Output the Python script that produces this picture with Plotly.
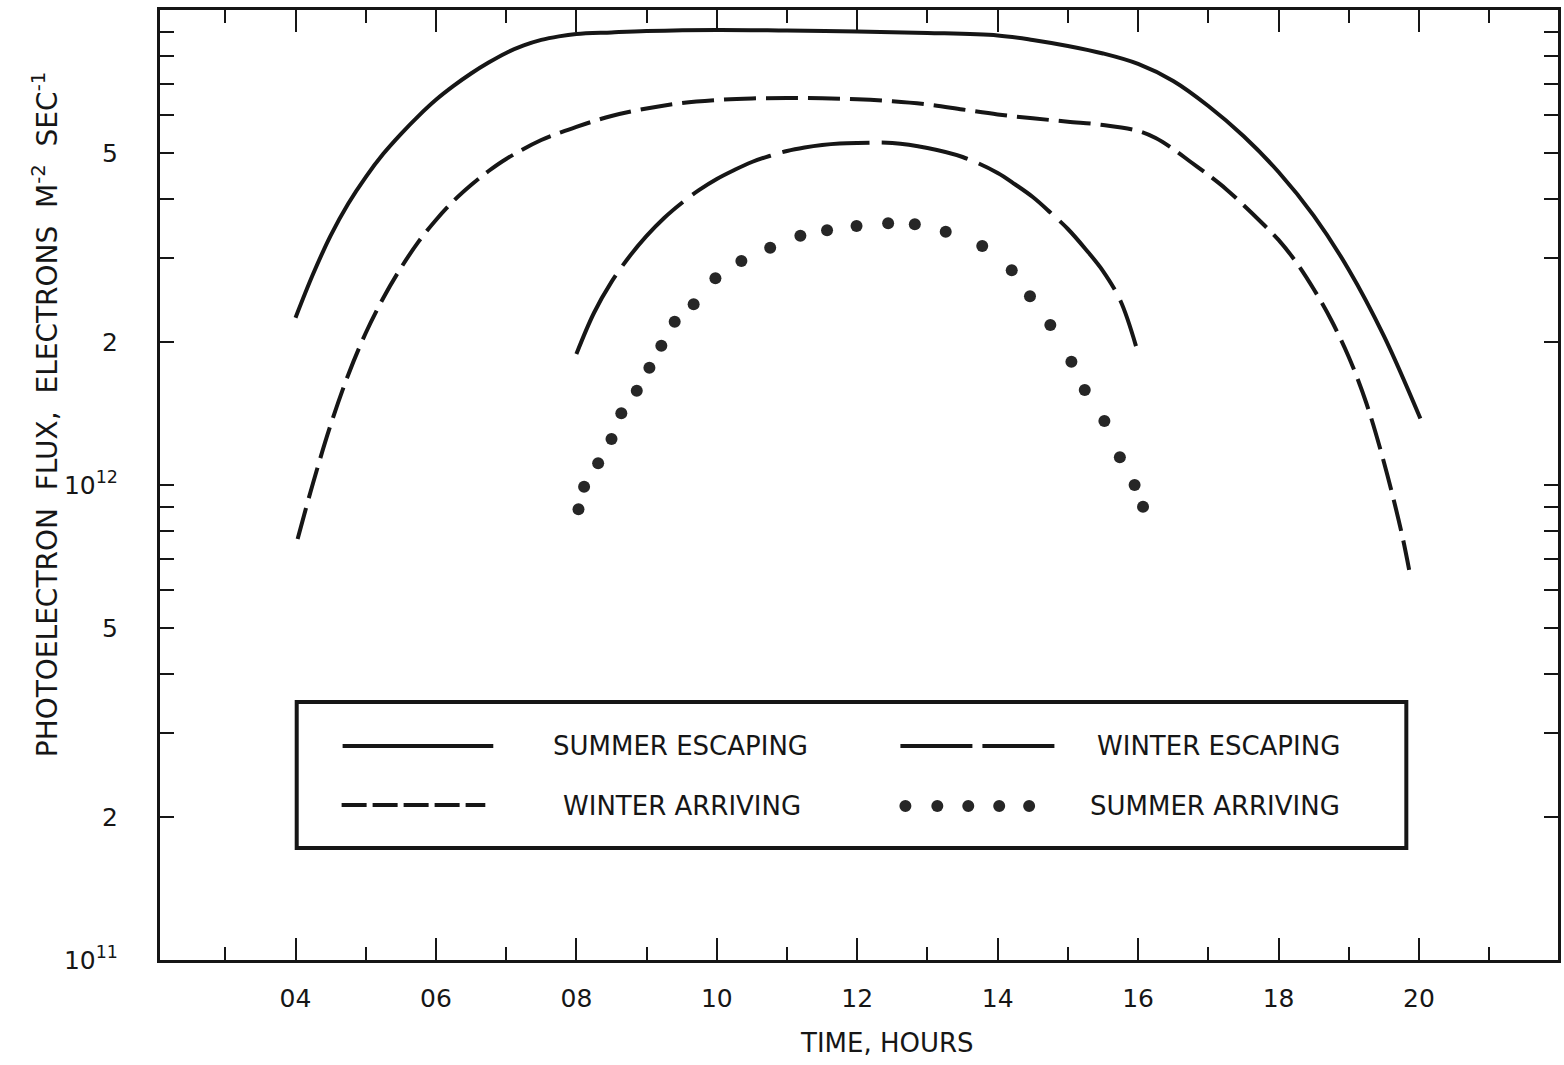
import math
import plotly.graph_objects as go

# Local time (hours) and photoelectron flux (electrons m^-2 s^-1)
summer_escaping_hours = [4.0, 4.25, 4.5, 4.75, 5.0, 5.25, 5.5, 5.75, 6.0, 6.25, 6.5, 6.75, 7.0,
                         7.25, 7.5, 7.75, 8.0, 8.5, 9.0, 10.0, 11.0, 12.0, 13.0, 14.0, 14.5,
                         15.0, 15.5, 16.0, 16.5, 17.0, 17.5, 18.0, 18.5, 19.0, 19.5, 20.02]
summer_escaping_flux = [2.25e12, 2.78e12, 3.35e12, 3.91e12, 4.45e12, 4.98e12, 5.48e12, 5.98e12,
                        6.47e12, 6.92e12, 7.35e12, 7.75e12, 8.12e12, 8.42e12, 8.65e12, 8.80e12,
                        8.90e12, 8.97e12, 9.03e12, 9.08e12, 9.05e12, 9.01e12, 8.95e12, 8.84e12,
                        8.65e12, 8.40e12, 8.10e12, 7.70e12, 7.09e12, 6.28e12, 5.43e12, 4.56e12,
                        3.69e12, 2.84e12, 2.06e12, 1.38e12]

winter_arriving_hours = [4.03, 4.25, 4.5, 4.75, 5.0, 5.25, 5.5, 5.75, 6.0, 6.25, 6.5, 6.75, 7.0,
                         7.5, 8.0, 8.5, 9.0, 9.5, 10.0, 10.5, 11.0, 11.5, 12.0, 12.5, 13.0, 13.5,
                         14.0, 14.5, 15.0, 15.5, 16.0, 16.25, 16.5, 16.75, 17.0, 17.25, 17.5,
                         17.75, 18.0, 18.25, 18.5, 18.75, 19.0, 19.25, 19.5, 19.75, 19.86]
winter_arriving_flux = [7.70e11, 1.010e12, 1.338e12, 1.705e12, 2.089e12, 2.476e12, 2.863e12,
                        3.249e12, 3.614e12, 3.962e12, 4.281e12, 4.582e12, 4.857e12, 5.325e12,
                        5.673e12, 5.983e12, 6.204e12, 6.372e12, 6.466e12, 6.513e12, 6.529e12,
                        6.519e12, 6.487e12, 6.425e12, 6.326e12, 6.174e12, 6.026e12, 5.916e12,
                        5.819e12, 5.728e12, 5.565e12, 5.377e12, 5.098e12, 4.786e12, 4.495e12,
                        4.201e12, 3.886e12, 3.579e12, 3.281e12, 2.947e12, 2.586e12, 2.225e12,
                        1.860e12, 1.488e12, 1.118e12, 7.96e11, 6.63e11]

winter_escaping_hours = [8.0, 8.25, 8.5, 8.75, 9.0, 9.25, 9.5, 9.75, 10.0, 10.25, 10.5, 10.75,
                         11.0, 11.25, 11.5, 11.75, 12.0, 12.5, 13.0, 13.5, 14.0, 14.25, 14.5,
                         14.75, 15.0, 15.25, 15.5, 15.75, 15.97]
winter_escaping_flux = [1.887e12, 2.302e12, 2.676e12, 3.020e12, 3.345e12, 3.649e12, 3.924e12,
                        4.180e12, 4.408e12, 4.604e12, 4.786e12, 4.928e12, 5.049e12, 5.135e12,
                        5.198e12, 5.236e12, 5.248e12, 5.248e12, 5.123e12, 4.904e12, 4.539e12,
                        4.292e12, 4.039e12, 3.747e12, 3.459e12, 3.140e12, 2.821e12, 2.440e12,
                        1.961e12]

summer_arriving_hours = [8.03, 8.11, 8.31, 8.50, 8.64, 8.86, 9.04, 9.21, 9.40, 9.67, 9.98, 10.35,
                         10.76, 11.19, 11.57, 11.99, 12.44, 12.82, 13.26, 13.78, 14.20, 14.46,
                         14.75, 15.05, 15.24, 15.52, 15.74, 15.95, 16.07]
summer_arriving_flux = [8.89e11, 9.92e11, 1.111e12, 1.250e12, 1.416e12, 1.579e12, 1.766e12,
                        1.965e12, 2.207e12, 2.401e12, 2.724e12, 2.962e12, 3.160e12, 3.348e12,
                        3.438e12, 3.510e12, 3.556e12, 3.539e12, 3.414e12, 3.186e12, 2.831e12,
                        2.496e12, 2.172e12, 1.818e12, 1.585e12, 1.364e12, 1.144e12, 1.000e12,
                        9.00e11]

x_tick_hours = [4, 6, 8, 10, 12, 14, 16, 18, 20]
x_tick_text = ["04", "06", "08", "10", "12", "14", "16", "18", "20"]
x_minor_hours = [3, 5, 7, 9, 11, 13, 15, 17, 19, 21]
y_tick_vals = [1e11, 2e11, 5e11, 1e12, 2e12, 5e12]
y_tick_text = ["10<sup>11</sup>", "2", "5", "10<sup>12</sup>", "2", "5"]
y_minor_vals = [3e11, 4e11, 6e11, 7e11, 8e11, 9e11, 3e12, 4e12, 6e12, 7e12, 8e12, 9e12]
y_decade_val = 1e12

series_labels = ["SUMMER ESCAPING", "WINTER ESCAPING", "WINTER ARRIVING", "SUMMER ARRIVING"]

INK = "#161616"
FONT = "DejaVu Sans"
X_RANGE = [2.07, 21.98]
Y_RANGE = [11, 13]

WINTER_ARR_DASH = "32px,10px"
WINTER_ESC_DASH = "88px,12px"

fig = go.Figure()

fig.add_trace(go.Scatter(
    x=summer_escaping_hours, y=summer_escaping_flux, mode="lines",
    line=dict(color=INK, width=4, shape="spline", smoothing=1.0),
    showlegend=False, hoverinfo="skip"))
fig.add_trace(go.Scatter(
    x=winter_arriving_hours, y=winter_arriving_flux, mode="lines",
    line=dict(color=INK, width=4, shape="spline", smoothing=1.0, dash=WINTER_ARR_DASH),
    showlegend=False, hoverinfo="skip"))
fig.add_trace(go.Scatter(
    x=winter_escaping_hours, y=winter_escaping_flux, mode="lines",
    line=dict(color=INK, width=4, shape="spline", smoothing=1.0, dash=WINTER_ESC_DASH),
    showlegend=False, hoverinfo="skip"))
fig.add_trace(go.Scatter(
    x=summer_arriving_hours, y=summer_arriving_flux, mode="markers",
    marker=dict(color="#262626", size=12, line=dict(width=0)),
    showlegend=False, hoverinfo="skip"))

# ---- key box ----
def px_x(p):
    return (p - 160) / 1401.0

def px_y(p):
    return (960 - p) / 950.0

decade_pos = math.log10(y_decade_val)  # shapes on a log axis take log10 positions

shapes = [
    # longer tick marking the 10^12 decade on the left axis
    dict(type="line", xref="paper", yref="y", xsizemode="pixel", xanchor=0,
         x0=0, x1=28, y0=decade_pos, y1=decade_pos,
         line=dict(color=INK, width=2)),
    dict(type="rect", xref="paper", yref="paper",
         x0=px_x(297), x1=px_x(1409), y0=px_y(848), y1=px_y(702),
         line=dict(color=INK, width=4), fillcolor="white", layer="below"),
    dict(type="line", xref="paper", yref="paper",
         x0=px_x(343), x1=px_x(494), y0=px_y(746), y1=px_y(746),
         line=dict(color=INK, width=4)),
    dict(type="line", xref="paper", yref="paper",
         x0=px_x(342), x1=px_x(486), y0=px_y(805), y1=px_y(805),
         line=dict(color=INK, width=4, dash="25px,6px")),
    dict(type="line", xref="paper", yref="paper",
         x0=px_x(902), x1=px_x(1058), y0=px_y(746), y1=px_y(746),
         line=dict(color=INK, width=4, dash="72px,10px")),
]
for cx in [907, 939, 970, 1001, 1031]:
    shapes.append(dict(type="circle", xref="paper", yref="paper",
                       xsizemode="pixel", ysizemode="pixel",
                       xanchor=px_x(cx), yanchor=px_y(806),
                       x0=-6, x1=6, y0=-6, y1=6,
                       line=dict(width=0), fillcolor="#262626"))

label_font = dict(family=FONT, size=26, color=INK)
annotations = [
    dict(text=series_labels[0], x=px_x(682), y=px_y(746), xref="paper", yref="paper",
         showarrow=False, xanchor="center", yanchor="middle", font=label_font),
    dict(text=series_labels[1], x=px_x(1221), y=px_y(746), xref="paper", yref="paper",
         showarrow=False, xanchor="center", yanchor="middle", font=label_font),
    dict(text=series_labels[2], x=px_x(683), y=px_y(806), xref="paper", yref="paper",
         showarrow=False, xanchor="center", yanchor="middle", font=label_font),
    dict(text=series_labels[3], x=px_x(1217), y=px_y(806), xref="paper", yref="paper",
         showarrow=False, xanchor="center", yanchor="middle", font=label_font),
    dict(text="PHOTOELECTRON  FLUX,  ELECTRONS  M<sup>-2</sup>  SEC<sup>-1</sup>",
         x=px_x(45), y=px_y(415), xref="paper", yref="paper", textangle=-90,
         showarrow=False, xanchor="center", yanchor="middle",
         font=dict(family=FONT, size=28, color=INK)),
    dict(text="TIME, HOURS", x=px_x(889), y=px_y(1043), xref="paper", yref="paper",
         showarrow=False, xanchor="center", yanchor="middle",
         font=dict(family=FONT, size=26, color=INK)),
]

fig.update_layout(
    width=1564, height=1065,
    margin=dict(l=160, r=3, t=10, b=105),
    paper_bgcolor="white", plot_bgcolor="white",
    showlegend=False,
    shapes=shapes,
    annotations=annotations,
    xaxis=dict(
        range=X_RANGE, tickvals=x_tick_hours, ticktext=x_tick_text,
        ticks="inside", ticklen=22, tickwidth=2, tickcolor=INK,
        showline=True, linewidth=3, linecolor=INK, mirror="allticks",
        showgrid=False, zeroline=False, ticklabelstandoff=14,
        tickfont=dict(family=FONT, size=25, color=INK),
        minor=dict(tickvals=x_minor_hours, ticks="inside", ticklen=13,
                   tickwidth=2, tickcolor=INK, showgrid=False),
    ),
    yaxis=dict(
        type="log", range=Y_RANGE, tickvals=y_tick_vals, ticktext=y_tick_text,
        ticks="inside", ticklen=14, tickwidth=2, tickcolor=INK,
        showline=True, linewidth=3, linecolor=INK, mirror="allticks",
        showgrid=False, zeroline=False, ticklabelstandoff=34,
        tickfont=dict(family=FONT, size=25, color=INK),
        minor=dict(tickvals=y_minor_vals, ticks="inside", ticklen=14,
                   tickwidth=2, tickcolor=INK, showgrid=False),
    ),
)

fig.write_html("out.html")
